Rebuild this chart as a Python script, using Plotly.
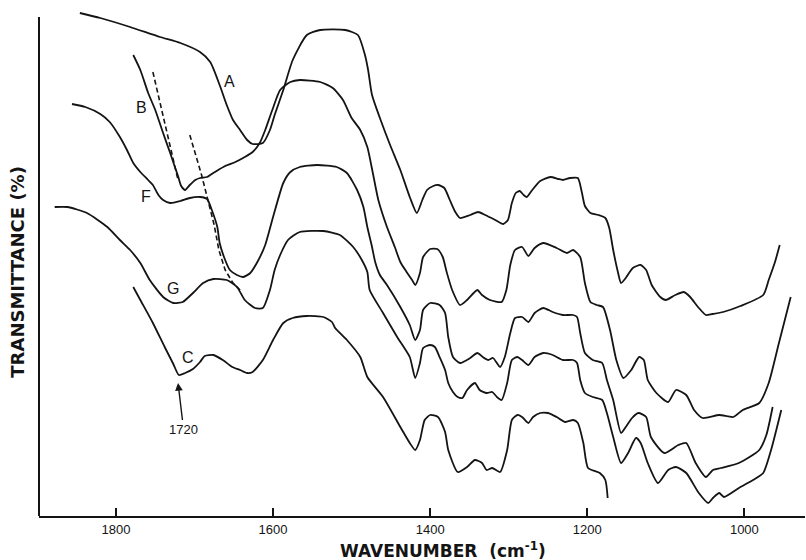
import plotly.graph_objects as go

# Infrared spectra (arbitrary transmittance scale, curves offset vertically)
wn_A = [1846, 1820, 1782, 1744, 1718, 1693, 1680, 1668, 1659, 1651, 1642, 1633, 1626, 1613, 1604, 1598,
        1587, 1575, 1557, 1540, 1508, 1492, 1483, 1479, 1474, 1464, 1451, 1438, 1426, 1417, 1410, 1404,
        1396, 1390, 1382, 1375, 1368, 1362, 1349, 1339, 1330, 1317, 1307, 1301, 1296, 1291, 1286, 1281,
        1277, 1270, 1260, 1247, 1237, 1231, 1222, 1212, 1207, 1203, 1196, 1186, 1177, 1172, 1167, 1161,
        1157, 1151, 1142, 1132, 1125, 1118, 1107, 1100, 1088, 1077, 1069, 1059, 1049, 1041, 1027, 1005,
        976, 969, 961, 955]
tr_A = [100.6, 99.6, 97.8, 95.8, 94.6, 92.8, 90.8, 86.2, 82.2, 79.2, 77.2, 75.2, 74.4, 74.6, 77.2, 80.2,
        85.2, 91.2, 96.2, 97.2, 97.2, 96.2, 92.2, 89.2, 84.2, 79.6, 74.2, 69.2, 63.8, 60.6, 63.2, 65.2,
        66.0, 66.2, 65.6, 63.2, 60.8, 59.6, 60.2, 60.8, 60.2, 59.2, 58.4, 59.2, 62.6, 64.6, 65.0, 64.2,
        63.8, 65.2, 67.0, 67.8, 67.4, 67.2, 67.6, 67.6, 64.8, 62.0, 60.6, 60.2, 59.6, 57.6, 53.2, 48.8,
        46.6, 47.6, 49.6, 50.2, 49.2, 46.2, 43.8, 43.2, 44.2, 44.8, 43.8, 41.8, 40.2, 40.4, 40.8, 42.0,
        44.2, 47.2, 50.8, 54.2]

wn_B = [1778, 1769, 1759, 1750, 1740, 1731, 1725, 1721, 1717, 1712, 1706, 1699, 1693, 1684, 1674, 1661,
        1648, 1636, 1626, 1617, 1610, 1601, 1591, 1578, 1566, 1540, 1524, 1511, 1500, 1489, 1480, 1473,
        1466, 1455, 1445, 1438, 1430, 1423, 1419, 1413, 1409, 1400, 1391, 1384, 1379, 1372, 1362, 1353,
        1340, 1334, 1324, 1309, 1303, 1298, 1292, 1283, 1275, 1267, 1256, 1239, 1226, 1218, 1209, 1203,
        1196, 1188, 1180, 1171, 1163, 1154, 1144, 1134, 1128, 1123, 1112, 1097, 1087, 1074, 1064, 1053,
        1032, 1014, 1002, 981, 969, 956, 941]
tr_B = [92.2, 89.2, 84.6, 81.2, 76.6, 72.6, 69.8, 68.0, 66.0, 65.2, 66.2, 67.2, 67.6, 67.8, 68.8, 70.0,
        70.8, 71.8, 72.8, 74.6, 77.2, 81.2, 85.2, 86.8, 87.2, 86.8, 85.6, 83.2, 79.6, 77.2, 73.8, 68.6,
        63.2, 57.8, 53.8, 50.8, 48.8, 47.2, 46.2, 48.6, 51.8, 53.4, 53.4, 51.8, 48.8, 45.2, 42.2, 43.2,
        45.2, 44.2, 43.2, 42.8, 45.2, 50.2, 53.2, 53.8, 52.0, 53.6, 54.6, 53.6, 52.6, 53.2, 51.8, 46.6,
        42.8, 42.2, 41.8, 37.2, 31.2, 27.6, 29.2, 31.8, 31.2, 27.2, 24.6, 22.8, 25.2, 24.2, 21.2, 19.6,
        20.2, 19.8, 21.2, 22.6, 26.6, 34.6, 43.8]

wn_F = [1856, 1839, 1820, 1808, 1795, 1786, 1778, 1769, 1759, 1753, 1746, 1740, 1731, 1718, 1706, 1693,
        1684, 1678, 1671, 1668, 1662, 1655, 1646, 1638, 1629, 1620, 1610, 1600, 1587, 1578, 1566, 1544,
        1519, 1506, 1493, 1485, 1480, 1474, 1470, 1464, 1455, 1438, 1426, 1419, 1413, 1409, 1400, 1388,
        1381, 1377, 1371, 1362, 1349, 1340, 1333, 1326, 1320, 1311, 1305, 1298, 1292, 1283, 1275, 1267,
        1256, 1244, 1231, 1218, 1213, 1209, 1203, 1193, 1181, 1175, 1167, 1157, 1151, 1143, 1135, 1125,
        1119, 1102, 1084, 1074, 1062, 1049, 1040, 1030, 1007, 981, 972, 964]
tr_F = [82.4, 81.8, 80.4, 78.8, 75.8, 73.2, 70.6, 68.8, 67.2, 66.2, 64.2, 63.2, 62.6, 63.0, 63.6, 63.8,
        63.4, 61.2, 57.8, 54.6, 51.6, 49.2, 48.2, 47.8, 48.6, 50.8, 54.2, 59.8, 66.6, 68.8, 69.8, 70.2,
        69.8, 68.6, 65.2, 61.8, 57.8, 53.8, 50.8, 48.2, 46.2, 41.8, 38.2, 35.2, 37.2, 41.2, 42.6, 42.2,
        40.6, 35.8, 31.8, 30.6, 31.6, 32.6, 31.8, 31.2, 31.6, 29.8, 31.8, 36.6, 39.6, 39.8, 38.8, 40.6,
        41.6, 40.8, 40.2, 40.2, 39.8, 36.6, 32.6, 31.2, 30.6, 27.2, 23.2, 16.6, 17.8, 19.6, 20.6, 19.8,
        15.8, 12.6, 14.2, 14.6, 10.6, 7.8, 9.2, 9.6, 10.6, 13.2, 16.2, 21.8]

wn_G = [1878, 1862, 1837, 1811, 1795, 1782, 1769, 1757, 1740, 1727, 1715, 1702, 1689, 1676, 1659, 1646,
        1636, 1623, 1613, 1604, 1598, 1591, 1581, 1566, 1536, 1515, 1498, 1487, 1480, 1477, 1460, 1442,
        1426, 1419, 1413, 1409, 1400, 1394, 1388, 1381, 1377, 1371, 1365, 1359, 1353, 1343, 1337, 1328,
        1321, 1315, 1309, 1302, 1296, 1289, 1283, 1275, 1267, 1256, 1244, 1231, 1218, 1213, 1209, 1203,
        1193, 1181, 1175, 1167, 1157, 1148, 1138, 1132, 1123, 1110, 1097, 1087, 1074, 1058, 1046, 1040,
        1032, 1026, 1007, 989, 976, 966, 953]
tr_G = [61.8, 61.8, 60.6, 57.8, 55.2, 53.2, 50.6, 47.2, 43.8, 42.6, 42.8, 44.6, 46.6, 47.4, 47.2, 45.8,
        43.2, 41.6, 41.6, 45.2, 49.2, 52.2, 55.2, 56.8, 57.0, 56.2, 53.8, 51.2, 48.8, 45.2, 40.6, 35.8,
        31.8, 27.6, 30.6, 33.6, 34.2, 33.8, 31.8, 29.2, 26.6, 24.8, 23.8, 23.6, 25.2, 26.6, 25.2, 24.6,
        24.8, 23.8, 23.2, 26.6, 31.2, 31.8, 31.2, 30.2, 31.8, 32.6, 32.2, 31.2, 31.2, 30.6, 27.2, 24.6,
        23.8, 23.2, 20.6, 15.8, 10.6, 12.6, 15.6, 14.6, 10.6, 6.6, 9.2, 9.8, 8.6, 4.6, 2.6, 3.6,
        4.6, 3.8, 5.6, 7.2, 8.6, 13.2, 21.2]

wn_C = [1778, 1769, 1753, 1738, 1727, 1720, 1712, 1702, 1693, 1687, 1676, 1664, 1652, 1642, 1633, 1626,
        1613, 1600, 1587, 1575, 1557, 1536, 1525, 1521, 1506, 1489, 1480, 1460, 1438, 1426, 1419, 1413,
        1407, 1400, 1390, 1381, 1377, 1365, 1353, 1343, 1334, 1328, 1321, 1311, 1302, 1296, 1289, 1283,
        1275, 1269, 1260, 1250, 1239, 1228, 1218, 1212, 1205, 1199, 1184, 1177, 1174]
tr_C = [45.8, 43.2, 38.6, 33.8, 30.4, 28.2, 28.6, 29.4, 30.8, 32.0, 32.2, 31.2, 29.8, 29.2, 28.6, 28.8,
        31.2, 35.2, 38.6, 39.6, 40.0, 39.8, 38.8, 37.6, 35.2, 31.8, 27.8, 23.8, 17.8, 14.6, 13.2, 15.2,
        19.2, 20.2, 19.8, 16.8, 13.2, 8.8, 9.8, 11.2, 10.6, 9.2, 9.6, 8.8, 13.2, 19.2, 20.2, 19.8,
        18.6, 19.8, 20.6, 20.6, 19.8, 18.8, 19.2, 18.6, 14.6, 9.6, 8.6, 7.2, 3.6]

# Dashed guide lines following the shift of the carbonyl band
wn_D1 = [1753, 1737, 1721]
tr_D1 = [88.8, 78.0, 67.2]
wn_D2 = [1706, 1691, 1683, 1675, 1669, 1661, 1651, 1642]
tr_D2 = [76.2, 68.2, 63.2, 58.2, 53.2, 49.2, 46.6, 45.2]

# Curve labels
label_text = ["A", "B", "F", "G", "C"]
label_wn = [1655, 1767, 1762, 1727, 1708]
label_tr = [87.0, 81.8, 64.0, 45.6, 31.8]

band_wn = 1720          # marked carbonyl band on curve C
band_tr = 28.2

tick_vals = [1800, 1600, 1400, 1200, 1000]
x_range = [1898, 922.8]
y_range = [0, 101.2]
y_axis_top = 99.8

INK = "#141414"

fig = go.Figure()

for wn, tr in [(wn_A, tr_A), (wn_B, tr_B), (wn_F, tr_F), (wn_G, tr_G), (wn_C, tr_C)]:
    fig.add_trace(go.Scatter(x=wn, y=tr, mode="lines",
                             line=dict(color=INK, width=1.8, shape="spline", smoothing=0.6),
                             hoverinfo="skip", showlegend=False))

for wn, tr in [(wn_D1, tr_D1), (wn_D2, tr_D2)]:
    fig.add_trace(go.Scatter(x=wn, y=tr, mode="lines",
                             line=dict(color=INK, width=1.6, dash="5px,3px"),
                             hoverinfo="skip", showlegend=False))

for txt, wx, ty in zip(label_text, label_wn, label_tr):
    fig.add_annotation(x=wx, y=ty, text=txt, showarrow=False,
                       font=dict(family="Liberation Sans", size=16, color=INK))

# Arrow marking the 1720 band
fig.add_annotation(x=band_wn + 1, y=band_tr - 1.6, ax=band_wn - 6, ay=17.4,
                   axref="x", ayref="y", text=str(band_wn), showarrow=True,
                   arrowhead=2, arrowsize=1.1, arrowwidth=1.4, arrowcolor=INK,
                   font=dict(family="Liberation Sans", size=13, color=INK))

# Axis titles
fig.add_annotation(xref="paper", yref="paper", x=0.527, y=-0.068, xanchor="center", yanchor="middle",
                   text="WAVENUMBER\u00a0\u00a0(cm<sup>-1</sup>)", showarrow=False,
                   font=dict(family="DejaVu Sans", size=17, color=INK, weight="bold"))
fig.add_annotation(xref="paper", yref="paper", x=-0.028, y=0.482, xanchor="center", yanchor="middle",
                   text="TRANSMITTANCE (%)", textangle=-90, showarrow=False,
                   font=dict(family="DejaVu Sans", size=18, color=INK, weight="bold"))

# Left axis line
fig.add_shape(type="line", xref="paper", yref="y", x0=0, x1=0, y0=0, y1=y_axis_top,
              line=dict(color=INK, width=2))

fig.update_xaxes(range=x_range, tickvals=tick_vals, ticks="inside", ticklen=8, tickwidth=2,
                 tickcolor=INK, showline=True, linecolor=INK, linewidth=2, showgrid=False,
                 zeroline=False, ticklabelstandoff=0,
                 tickfont=dict(family="Liberation Sans", size=13, color=INK))
fig.update_yaxes(range=y_range, showticklabels=False, showgrid=False, zeroline=False,
                 showline=False, ticks="")

fig.update_layout(width=806, height=560, margin=dict(l=39, r=1, t=10, b=44),
                  plot_bgcolor="white", paper_bgcolor="white")

fig.write_html("out.html")
